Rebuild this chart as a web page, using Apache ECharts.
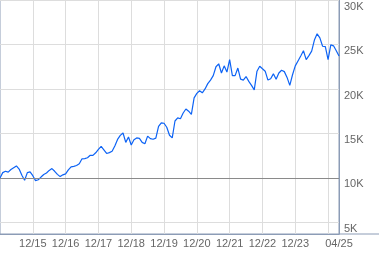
<!DOCTYPE html>
<html>
<head>
<meta charset="utf-8">
<script src="https://cdn.jsdelivr.net/npm/echarts@6/dist/echarts.min.js"></script>
<style>html,body{margin:0;padding:0;background:#fff}#c{width:379px;height:255px}</style>
</head>
<body>
<div id="c"></div>
<script>
// Monthly categories, Dec 2014 .. Apr 2025
const START_YEAR = 2014, START_MONTH = 12, N_MONTHS = 125;
const categories = [];
for (let i = 0; i < N_MONTHS; i++) {
  const m0 = (START_MONTH - 1 + i);
  const y = START_YEAR + Math.floor(m0 / 12);
  const m = (m0 % 12) + 1;
  categories.push(y + '-' + String(m).padStart(2, '0'));
}

// Growth of 10K
const values = [
  10000,10600,10750,10650,10950,11150,11350,11000,10300,9750,
  10600,10680,10250,9700,9800,10100,10380,10550,10850,11050,
  10750,10400,10150,10350,10450,10900,11250,11300,11400,11600,
  12150,12180,12270,12550,12530,12830,13200,13550,13150,12750,
  12850,13000,13600,14330,14780,15050,14000,14600,13700,14300,
  14500,14450,14000,13850,14700,14420,14350,14480,15800,16200,
  16150,15700,14800,14500,16400,16750,16650,17300,17750,17500,
  17150,19000,19500,19800,19570,20000,20600,21000,21500,22500,
  22830,21800,22600,21900,23300,21500,21500,22350,21100,21000,
  21400,20850,20400,19900,22000,22550,22270,22000,21000,21150,
  21700,21100,21800,22100,21950,21300,20400,21600,22600,23150,
  23700,24300,23300,23750,24250,25500,26200,25750,24800,24750,
  23300,24950,24850,24300,23700
];

const yTicks = [5000, 10000, 15000, 20000, 25000, 30000];
const yMin = 3700, yMax = 30000;
const baseline = 10000;

const lastIdx = categories.length - 1;
function isYearTick(i) { return i > 0 && i % 12 === 0; }

const chart = echarts.init(document.getElementById('c'));
chart.setOption({
  animation: false,
  grid: { left: 0, top: 0, right: 40, bottom: 21, show: true, borderColor: '#8c9cb6', borderWidth: 1, containLabel: false },
  xAxis: {
    type: 'category',
    data: categories,
    boundaryGap: false,
    axisLine: { show: true, lineStyle: { color: '#8c9cb6', width: 1 } },
    axisTick: { show: false },
    axisLabel: {
      interval: (i) => isYearTick(i) || i === lastIdx,
      showMaxLabel: true,
      margin: 4,
      color: '#666',
      fontFamily: 'Liberation Sans',
      fontSize: 11,
      formatter: (v) => v.slice(5, 7) + '/' + v.slice(2, 4)
    },
    splitLine: { show: true, interval: (i) => isYearTick(i), lineStyle: { color: '#dddddd', width: 1 } }
  },
  yAxis: {
    type: 'value',
    position: 'right',
    min: yMin,
    max: yMax,
    axisLine: { show: true, lineStyle: { color: '#8c9cb6', width: 1 } },
    axisTick: { show: false, customValues: yTicks },
    axisLabel: {
      customValues: yTicks,
      margin: 5,
      color: '#666',
      fontFamily: 'Liberation Sans',
      fontSize: 11,
      verticalAlign: 'top',
      padding: [1, 0, 0, 0],
      formatter: (v) => (v / 1000) + 'K'
    },
    splitLine: { show: true, lineStyle: { color: '#dddddd', width: 1 } }
  },
  graphic: [
    { type: 'line', shape: { x1: 339, y1: 234, x2: 379, y2: 234 }, style: { stroke: '#8c9cb6', lineWidth: 1 } }
  ],
  series: [{
    type: 'line',
    data: values,
    showSymbol: false,
    symbol: 'none',
    lineStyle: { color: '#0d63f5', width: 1.2 },
    markLine: {
      silent: true,
      symbol: 'none',
      label: { show: false },
      lineStyle: { color: '#8a8a8a', width: 1, type: 'solid' },
      data: [{ yAxis: baseline }]
    },
    z: 3
  }]
});
</script>
</body>
</html>
